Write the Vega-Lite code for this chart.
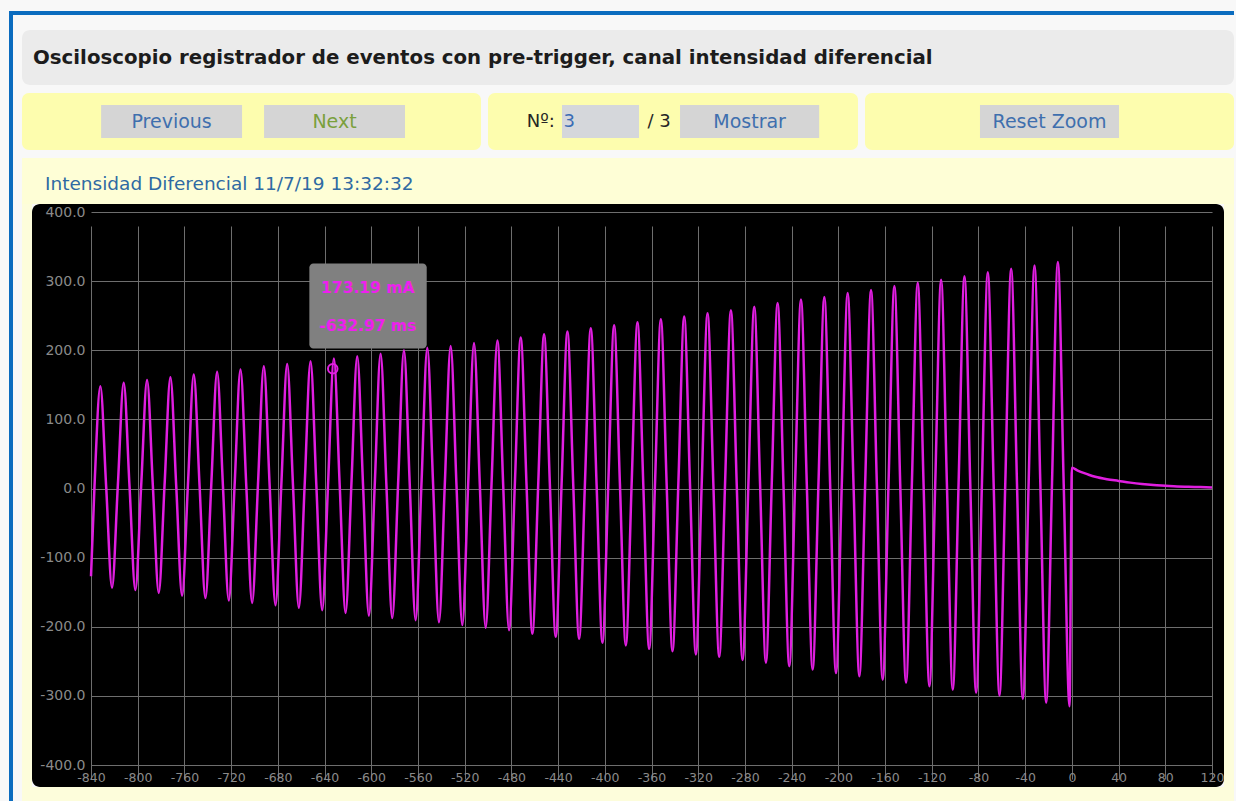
{
  "$schema": "https://vega.github.io/schema/vega-lite/v6.json",
  "background": "#f8f8f8",
  "padding": {"left": 9, "top": 11, "right": 2, "bottom": 0},
  "config": {"view": {"stroke": null}, "font": "DejaVu Sans"},
  "datasets": {
    "wave": [
      {"t": -840, "i": -127},
      {"t": -837, "i": 3.5}, {"t": -832, "i": 148}, {"t": -827, "i": 2.3}, {"t": -822, "i": -143.5},
      {"t": -817, "i": 4.8}, {"t": -812, "i": 153}, {"t": -807, "i": 3}, {"t": -802, "i": -147},
      {"t": -797, "i": 5}, {"t": -792, "i": 157}, {"t": -787, "i": 3}, {"t": -782, "i": -151},
      {"t": -777, "i": 5}, {"t": -772, "i": 161}, {"t": -767, "i": 3}, {"t": -762, "i": -155},
      {"t": -757, "i": 5}, {"t": -752, "i": 165}, {"t": -747, "i": 3.3}, {"t": -742, "i": -158.5},
      {"t": -737, "i": 5.3}, {"t": -732, "i": 169}, {"t": -727, "i": 3.5}, {"t": -722, "i": -162},
      {"t": -717, "i": 5}, {"t": -712, "i": 172}, {"t": -707, "i": 3.3}, {"t": -702, "i": -165.5},
      {"t": -697, "i": 5.8}, {"t": -692, "i": 177}, {"t": -687, "i": 4}, {"t": -682, "i": -169},
      {"t": -677, "i": 5.5}, {"t": -672, "i": 180}, {"t": -667, "i": 3.8}, {"t": -662, "i": -172.5},
      {"t": -657, "i": 5.8}, {"t": -652, "i": 184}, {"t": -647, "i": 4}, {"t": -642, "i": -176},
      {"t": -637, "i": 6}, {"t": -632, "i": 188}, {"t": -627, "i": 4}, {"t": -622, "i": -180},
      {"t": -617, "i": 5.8}, {"t": -612, "i": 191.5}, {"t": -607, "i": 3.8}, {"t": -602, "i": -184},
      {"t": -597, "i": 5.5}, {"t": -592, "i": 195}, {"t": -587, "i": 3.8}, {"t": -582, "i": -187.5},
      {"t": -577, "i": 6.3}, {"t": -572, "i": 200}, {"t": -567, "i": 4.8}, {"t": -562, "i": -190.5},
      {"t": -557, "i": 6.5}, {"t": -552, "i": 203.5}, {"t": -547, "i": 5}, {"t": -542, "i": -193.5},
      {"t": -537, "i": 6.3}, {"t": -532, "i": 206}, {"t": -527, "i": 4.3}, {"t": -522, "i": -197.5},
      {"t": -517, "i": 6.5}, {"t": -512, "i": 210.5}, {"t": -507, "i": 4.5}, {"t": -502, "i": -201.5},
      {"t": -497, "i": 6.3}, {"t": -492, "i": 214}, {"t": -487, "i": 4.5}, {"t": -482, "i": -205},
      {"t": -477, "i": 6.8}, {"t": -472, "i": 218.5}, {"t": -467, "i": 4.3}, {"t": -462, "i": -210},
      {"t": -457, "i": 6.5}, {"t": -452, "i": 223}, {"t": -447, "i": 4.3}, {"t": -442, "i": -214.5},
      {"t": -437, "i": 6.3}, {"t": -432, "i": 227}, {"t": -427, "i": 4.8}, {"t": -422, "i": -217.5},
      {"t": -417, "i": 7.3}, {"t": -412, "i": 232}, {"t": -407, "i": 4.5}, {"t": -402, "i": -223},
      {"t": -397, "i": 6.5}, {"t": -392, "i": 236}, {"t": -387, "i": 4.5}, {"t": -382, "i": -227},
      {"t": -377, "i": 6.8}, {"t": -372, "i": 240.5}, {"t": -367, "i": 4.3}, {"t": -362, "i": -232},
      {"t": -357, "i": 6.5}, {"t": -352, "i": 245}, {"t": -347, "i": 4.8}, {"t": -342, "i": -235.5},
      {"t": -337, "i": 6.8}, {"t": -332, "i": 249}, {"t": -327, "i": 4.5}, {"t": -322, "i": -240},
      {"t": -317, "i": 6.8}, {"t": -312, "i": 253.5}, {"t": -307, "i": 5}, {"t": -302, "i": -243.5},
      {"t": -297, "i": 7.3}, {"t": -292, "i": 258}, {"t": -287, "i": 5}, {"t": -282, "i": -248},
      {"t": -277, "i": 7.5}, {"t": -272, "i": 263}, {"t": -267, "i": 5.5}, {"t": -262, "i": -252},
      {"t": -257, "i": 8.3}, {"t": -252, "i": 268.5}, {"t": -247, "i": 5.8}, {"t": -242, "i": -257},
      {"t": -237, "i": 8.3}, {"t": -232, "i": 273.5}, {"t": -227, "i": 5.8}, {"t": -222, "i": -262},
      {"t": -217, "i": 7.5}, {"t": -212, "i": 277}, {"t": -207, "i": 5}, {"t": -202, "i": -267},
      {"t": -197, "i": 8}, {"t": -192, "i": 283}, {"t": -187, "i": 5.8}, {"t": -182, "i": -271.5},
      {"t": -177, "i": 7.8}, {"t": -172, "i": 287}, {"t": -167, "i": 5.3}, {"t": -162, "i": -276.5},
      {"t": -157, "i": 8.3}, {"t": -152, "i": 293}, {"t": -147, "i": 6}, {"t": -142, "i": -281},
      {"t": -137, "i": 8.3}, {"t": -132, "i": 297.5}, {"t": -127, "i": 5.8}, {"t": -122, "i": -286},
      {"t": -117, "i": 8}, {"t": -112, "i": 302}, {"t": -107, "i": 5.5}, {"t": -102, "i": -291},
      {"t": -97, "i": 8}, {"t": -92, "i": 307}, {"t": -87, "i": 5.8}, {"t": -82, "i": -295.5},
      {"t": -77, "i": 8.8}, {"t": -72, "i": 313}, {"t": -67, "i": 6.8}, {"t": -62, "i": -299.5},
      {"t": -57, "i": 9.3}, {"t": -52, "i": 318}, {"t": -47, "i": 6.8}, {"t": -42, "i": -304.5},
      {"t": -37, "i": 9}, {"t": -32, "i": 322.5}, {"t": -27, "i": 6.3}, {"t": -22, "i": -310},
      {"t": -17, "i": 8.8}, {"t": -12, "i": 327.5}, {"t": -7, "i": 6.3}, {"t": -2, "i": -315},
      {"t": 0, "i": 30}, {"t": 5, "i": 26}, {"t": 10, "i": 22.5}, {"t": 15, "i": 19.5}, {"t": 20, "i": 17},
      {"t": 30, "i": 13.5}, {"t": 40, "i": 11}, {"t": 50, "i": 8.5}, {"t": 60, "i": 6.5}, {"t": 70, "i": 5},
      {"t": 80, "i": 4}, {"t": 90, "i": 3}, {"t": 100, "i": 2.5}, {"t": 110, "i": 2}, {"t": 120, "i": 1.5}
    ]
  },
  "spacing": 0,
  "vconcat": [
    {
      "width": 1225, "height": 4,
      "view": {"fill": "#0b6cbf", "stroke": null},
      "data": {"values": [{}]},
      "mark": {"type": "point", "size": 0, "strokeWidth": 0, "opacity": 0}
    },
    {
      "spacing": 0,
      "hconcat": [
        {
          "width": 4, "height": 786,
          "view": {"fill": "#0b6cbf", "stroke": null},
          "data": {"values": [{}]},
          "mark": {"type": "point", "size": 0, "strokeWidth": 0, "opacity": 0}
        },
        {
          "width": 9, "height": 786,
          "view": {"fill": "#f8f8f8", "stroke": null},
          "data": {"values": [{}]},
          "mark": {"type": "point", "size": 0, "strokeWidth": 0, "opacity": 0}
        },
        {
          "spacing": 8,
          "vconcat": [
            {
              "width": 1212, "height": 7,
              "view": {"fill": "#f8f8f8", "stroke": null},
              "data": {"values": [{}]},
              "mark": {"type": "point", "size": 0, "strokeWidth": 0, "opacity": 0}
            },
            {
              "width": 1212, "height": 55,
              "view": {"fill": "#ebebeb", "stroke": null, "cornerRadius": 8},
              "data": {"values": [{"heading": "Osciloscopio registrador de eventos con pre-trigger, canal intensidad diferencial"}]},
              "mark": {"type": "text", "align": "left", "baseline": "middle", "dx": 11, "font": "DejaVu Sans", "fontWeight": "bold", "fontSize": 19.8, "color": "#1c1c1c"},
              "encoding": {
                "x": {"field": "heading", "type": "nominal", "axis": null, "scale": {"type": "point", "padding": 0, "align": 0}},
                "text": {"field": "heading"}
              }
            },
            {
              "spacing": 7,
              "hconcat": [
                {
                  "width": 459, "height": 57,
                  "view": {"fill": "#fdfdae", "stroke": null, "cornerRadius": 7},
                  "data": {"values": [{"button": "Previous", "row": "r"}, {"button": "Next", "row": "r"}]},
                  "encoding": {
                    "x": {"field": "button", "type": "nominal", "axis": null, "scale": {"type": "band", "domain": ["Previous", "Next"], "paddingInner": 0.135, "paddingOuter": 0.476, "align": 0.51}},
                    "y": {"field": "row", "type": "nominal", "axis": null, "scale": {"type": "band", "paddingInner": 0, "paddingOuter": 0.364}}
                  },
                  "layer": [
                    {"mark": {"type": "rect", "color": "#d5d5d5"}},
                    {
                      "transform": [{"filter": "datum.button === 'Previous'"}],
                      "mark": {"type": "text", "font": "DejaVu Sans", "fontSize": 19, "color": "#3f6fae"},
                      "encoding": {"text": {"field": "button"}}
                    },
                    {
                      "transform": [{"filter": "datum.button === 'Next'"}],
                      "mark": {"type": "text", "font": "DejaVu Sans", "fontSize": 19, "color": "#7aa03c"},
                      "encoding": {"text": {"field": "button"}}
                    }
                  ]
                },
                {
                  "width": 370, "height": 57,
                  "view": {"fill": "#fdfdae", "stroke": null, "cornerRadius": 7},
                  "data": {"values": [{"item": "Nº:", "row": "r"}, {"item": "3", "row": "r"}, {"item": "/ 3", "row": "r"}, {"item": "Mostrar", "row": "r"}]},
                  "encoding": {
                    "x": {"field": "item", "type": "nominal", "axis": null, "scale": {"type": "band", "domain": ["Nº:", "3", "/ 3", "·", "Mostrar", "··"], "paddingInner": 0, "paddingOuter": 0.7225, "align": 0.5286}},
                    "y": {"field": "row", "type": "nominal", "axis": null, "scale": {"type": "band", "paddingInner": 0, "paddingOuter": 0.364}}
                  },
                  "layer": [
                    {"transform": [{"filter": "datum.item === '3'"}], "mark": {"type": "rect", "color": "#d5d7db", "width": {"band": 1.55}}},
                    {"transform": [{"filter": "datum.item === 'Mostrar'"}], "mark": {"type": "rect", "color": "#d5d5d5", "width": {"band": 2.8}}},
                    {
                      "transform": [{"filter": "datum.item === 'Nº:'"}],
                      "mark": {"type": "text", "font": "DejaVu Sans", "fontSize": 18, "color": "#262626", "dx": -10},
                      "encoding": {"text": {"field": "item"}}
                    },
                    {
                      "transform": [{"filter": "datum.item === '/ 3'"}],
                      "mark": {"type": "text", "font": "DejaVu Sans", "fontSize": 18, "color": "#262626", "dx": 9},
                      "encoding": {"text": {"field": "item"}}
                    },
                    {
                      "transform": [{"filter": "datum.item === 'Mostrar'"}],
                      "mark": {"type": "text", "font": "DejaVu Sans", "fontSize": 19, "color": "#3f6fae"},
                      "encoding": {"text": {"field": "item"}}
                    },
                    {
                      "transform": [{"filter": "datum.item === '3'"}],
                      "mark": {"type": "text", "font": "DejaVu Sans", "fontSize": 18, "align": "left", "dx": -37, "color": "#3a6cb5"},
                      "encoding": {"text": {"field": "item"}}
                    }
                  ]
                },
                {
                  "width": 369, "height": 57,
                  "view": {"fill": "#fdfdae", "stroke": null, "cornerRadius": 7},
                  "data": {"values": [{"button": "Reset Zoom", "row": "r"}]},
                  "encoding": {
                    "x": {"field": "button", "type": "nominal", "axis": null, "scale": {"type": "band", "paddingInner": 0, "paddingOuter": 0.827}},
                    "y": {"field": "row", "type": "nominal", "axis": null, "scale": {"type": "band", "paddingInner": 0, "paddingOuter": 0.364}}
                  },
                  "layer": [
                    {"mark": {"type": "rect", "color": "#d5d5d5"}},
                    {"mark": {"type": "text", "font": "DejaVu Sans", "fontSize": 19, "color": "#3f6fae"}, "encoding": {"text": {"field": "button"}}}
                  ]
                }
              ]
            },
            {
              "spacing": 0,
              "vconcat": [
                {
                  "width": 1212, "height": 46,
                  "view": {"fill": "#fefed6", "stroke": null},
                  "data": {"values": [{"caption": "Intensidad Diferencial 11/7/19 13:32:32"}]},
                  "mark": {"type": "text", "align": "left", "baseline": "middle", "dx": 23, "dy": 3, "font": "DejaVu Sans", "fontSize": 18.5, "color": "#2f6aa3"},
                  "encoding": {
                    "x": {"field": "caption", "type": "nominal", "axis": null, "scale": {"type": "point", "padding": 0, "align": 0}},
                    "text": {"field": "caption"}
                  }
                },
                {
                  "spacing": 0,
                  "hconcat": [
                    {
                      "width": 10, "height": 583,
                      "view": {"fill": "#fdfddb", "stroke": null},
                      "data": {"values": [{}]},
                      "mark": {"type": "point", "size": 0, "strokeWidth": 0, "opacity": 0}
                    },
                    {
                      "width": 1192, "height": 583,
                      "view": {"fill": "#000000", "stroke": null, "cornerRadius": 8},
                      "layer": [
                        {
                          "data": {"name": "wave"},
                          "mark": {"type": "line", "interpolate": "monotone", "color": "#e01ee0", "strokeWidth": 2.5},
                          "encoding": {
                            "x": {
                              "field": "t", "type": "quantitative",
                              "scale": {"domain": [-840, 120], "range": [59, 1180], "nice": false, "zero": false},
                              "axis": {
                                "orient": "bottom", "offset": -22, "title": null,
                                "values": [-840, -820, -800, -780, -760, -740, -720, -700, -680, -660, -640, -620, -600, -580, -560, -540, -520, -500, -480, -460, -440, -420, -400, -380, -360, -340, -320, -300, -280, -260, -240, -220, -200, -180, -160, -140, -120, -100, -80, -60, -40, -20, 0, 20, 40, 60, 80, 100, 120],
                                "labelExpr": "datum.value % 40 === 0 ? '' + datum.value : ''",
                                "grid": true, "gridColor": "#6e6e6e", "gridWidth": 1, "gridOpacity": 1,
                                "domain": false, "ticks": false, "tickSize": 0,
                                "labelPadding": 6, "labelColor": "#8a8a8a", "labelFont": "DejaVu Sans", "labelFontSize": 12.5,
                                "labelFlush": false, "labelOverlap": false, "labelBound": false
                              }
                            },
                            "y": {
                              "field": "i", "type": "quantitative",
                              "scale": {"domain": [-400, 400], "range": [561, 8], "nice": false, "zero": false},
                              "axis": {
                                "orient": "left", "offset": -59, "title": null,
                                "values": [-400, -300, -200, -100, 0, 100, 200, 300, 400],
                                "labelExpr": "datum.value + '.0'",
                                "grid": true, "gridColor": "#6e6e6e", "gridWidth": 1, "gridOpacity": 1,
                                "domain": false, "ticks": false, "tickSize": 0,
                                "labelPadding": 6, "labelColor": "#8a8a8a", "labelFont": "DejaVu Sans", "labelFontSize": 14,
                                "labelOverlap": false, "labelBound": false
                              }
                            }
                          }
                        },
                        {
                          "data": {"values": [{"t": -632.97, "i": 173.19, "current": "173.19 mA", "time": "-632.97 ms"}]},
                          "layer": [
                            {
                              "mark": {"type": "rect", "color": "#808080", "cornerRadius": 4},
                              "encoding": {"x": {"datum": -653}, "x2": {"datum": -552.5}, "y": {"datum": 325.5}, "y2": {"datum": 202.5}}
                            },
                            {
                              "mark": {"type": "text", "color": "#ee1fee", "font": "DejaVu Sans", "fontWeight": "bold", "fontSize": 15.5},
                              "encoding": {"x": {"datum": -603}, "y": {"datum": 289.5}, "text": {"field": "current"}}
                            },
                            {
                              "mark": {"type": "text", "color": "#ee1fee", "font": "DejaVu Sans", "fontWeight": "bold", "fontSize": 15.5},
                              "encoding": {"x": {"datum": -603}, "y": {"datum": 235}, "text": {"field": "time"}}
                            },
                            {
                              "mark": {"type": "point", "shape": "circle", "filled": false, "color": "#e21fe2", "strokeWidth": 2, "size": 90, "opacity": 1},
                              "encoding": {"x": {"field": "t", "type": "quantitative"}, "y": {"field": "i", "type": "quantitative"}}
                            }
                          ]
                        }
                      ]
                    },
                    {
                      "width": 10, "height": 583,
                      "view": {"fill": "#fdfddb", "stroke": null},
                      "data": {"values": [{}]},
                      "mark": {"type": "point", "size": 0, "strokeWidth": 0, "opacity": 0}
                    }
                  ]
                },
                {
                  "width": 1212, "height": 14,
                  "view": {"fill": "#fdfddb", "stroke": null},
                  "data": {"values": [{}]},
                  "mark": {"type": "point", "size": 0, "strokeWidth": 0, "opacity": 0}
                }
              ]
            }
          ]
        }
      ]
    }
  ]
}
